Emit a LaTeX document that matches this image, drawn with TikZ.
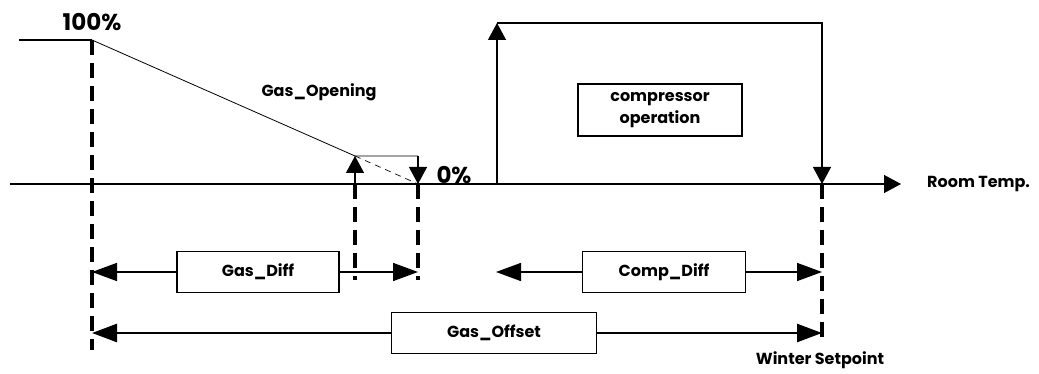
\documentclass[tikz,border=0pt]{standalone}
\usepackage{fontspec}
\setmainfont{Poppins}
\usetikzlibrary{arrows.meta,positioning}

\begin{document}
\begin{tikzpicture}[x=1pt, y=1pt,
    font=\bfseries\fontsize{16}{22}\selectfont,
    tip/.style={-{Triangle[length=17pt,width=18pt]}},
    dimarrow/.style={-{Triangle[length=25pt,width=18pt]}, line width=1.6pt},
    limit/.style={line width=4pt, dash pattern=on 15pt off 8pt},
    dimbox/.style={draw, line width=1.2pt, inner sep=0pt, minimum height=41pt},
    bigtext/.style={font=\bfseries\fontsize{23}{26}\selectfont}]
    \useasboundingbox (0,-190) rectangle (1039,184);
    % axis
    \coordinate (ax0) at (10,0);
    \coordinate (ax1) at (901,0);
    \draw[tip, line width=1.3pt] (ax0) -- (ax1);
    \node[anchor=west, inner sep=0pt] (roomtemp) at (927,0) {Room Temp.};
    % gas valve opening
    \coordinate (fullL) at (19,144);
    \coordinate (full) at (92,144);
    \coordinate (gasA) at (355,28);
    \coordinate (gasB) at (418,28);
    \coordinate (gasA0) at (355,0);
    \coordinate (gasB0) at (418,0);
    \draw[line width=1.4pt] (fullL) -- (full);
    \draw[line width=0.8pt] (full) -- (gasA) -- (gasB);
    \draw[tip, line width=1.2pt] (gasA0) -- (gasA);
    \draw[tip, line width=1.2pt] (gasB) -- (gasB0);
    \draw[line width=0.7pt, dash pattern=on 6pt off 5pt] (gasA) -- (gasB0);
    \node[bigtext] (p100) at (92,162) {100\%};
    \node[bigtext] (p0) at (454,9) {0\%};
    \node (gasopen) at (319,92) {Gas\_Opening};
    % compressor
    \coordinate (c0) at (497,0);
    \coordinate (c1) at (497,161);
    \coordinate (c2) at (822,161);
    \coordinate (c3) at (822,0);
    \draw[tip, line width=1.2pt] (c0) -- (c1);
    \draw[tip, line width=1.2pt] (c1) -- (c2) -- (c3);
    \node[draw, line width=2.5pt, inner sep=0pt, minimum width=164pt, minimum height=52pt,
        align=center] (comp) at (660,74) {compressor\\operation};
    % limits
    \coordinate (lim1) at (92,-166);
    \coordinate (lim2) at (355,-96);
    \coordinate (lim3) at (418,-96);
    \coordinate (lim4) at (822,-154);
    \draw[limit] (full) -- (lim1);
    \draw[limit] (gasA0) -- (lim2);
    \draw[limit] (gasB0) -- (lim3);
    \draw[limit] (c3) -- (lim4);
    % differentials
    \node[dimbox, minimum width=162pt] (gasdiff) at (258,-88) {Gas\_Diff};
    \coordinate (gd0) at (92,-88);
    \coordinate (gd1) at (418,-88);
    \draw[dimarrow] (gasdiff.west) -- (gd0);
    \draw[dimarrow] (gasdiff.east) -- (gd1);
    \node[dimbox, minimum width=163pt] (compdiff) at (664,-88) {Comp\_Diff};
    \coordinate (cd0) at (496,-88);
    \coordinate (cd1) at (822,-88);
    \draw[dimarrow] (compdiff.west) -- (cd0);
    \draw[dimarrow] (compdiff.east) -- (cd1);
    \node[dimbox, minimum width=205pt] (gasoff) at (494,-149) {Gas\_Offset};
    \coordinate (go0) at (92,-149);
    \coordinate (go1) at (822,-149);
    \draw[dimarrow, line width=2.5pt] (gasoff.west) -- (go0);
    \draw[dimarrow, line width=2.5pt] (gasoff.east) -- (go1);
    \node (winter) at (820,-176) {Winter Setpoint};
\end{tikzpicture}
\end{document}
